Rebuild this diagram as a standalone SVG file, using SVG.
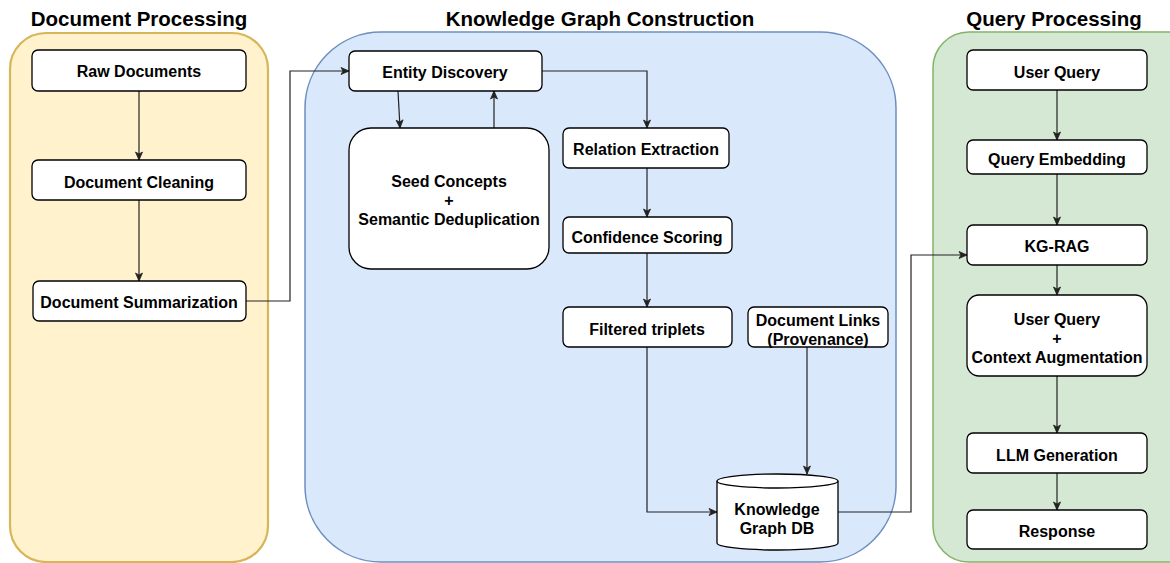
<svg xmlns="http://www.w3.org/2000/svg" width="1170" height="563" viewBox="0 0 1170 563">
<style>
.t{font-family:"Liberation Sans",Arial,sans-serif;font-weight:bold;fill:#000}
.title{font-size:20.5px}
.lbl{font-size:16px}
.box{fill:#fff;stroke:#000;stroke-width:1.3}
.edge{fill:none;stroke:#222;stroke-width:1.2}
</style>
<defs>
<marker id="ah" markerUnits="userSpaceOnUse" markerWidth="10" markerHeight="10" viewBox="0 0 10 10" refX="9" refY="5" orient="auto">
<path d="M1,1.5 L9,5 L1,8.5 L3,5 z" fill="#222" stroke="#222" stroke-width="0.8"/>
</marker>
</defs>
<rect width="1170" height="563" fill="#fff"/>

<g id="containers">
<g id="doc-processing">
<rect x="10" y="33" width="258" height="529" rx="36" fill="#fff2cc" stroke="#d6b656" stroke-width="2.2"/>
<text class="t title" x="139" y="18" text-anchor="middle" dominant-baseline="central">Document Processing</text>
</g>
<g id="kg-construction">
<rect x="305" y="32" width="591" height="530" rx="76" fill="#dae8fc" stroke="#6c8ebf" stroke-width="1.5"/>
<text class="t title" x="600" y="18" text-anchor="middle" dominant-baseline="central">Knowledge Graph Construction</text>
</g>
<g id="query-processing">
<rect x="933" y="32" width="280" height="530" rx="36" fill="#d5e8d4" stroke="#82b366" stroke-width="1.5"/>
<text class="t title" x="1054" y="18" text-anchor="middle" dominant-baseline="central">Query Processing</text>
</g>
</g>

<g id="connectors">
<path class="edge" d="M139,91 L139,160" marker-end="url(#ah)"/>
<path class="edge" d="M139,200 L139,281" marker-end="url(#ah)"/>
<path class="edge" d="M246,301 L290,301 L290,71 L349,71" marker-end="url(#ah)"/>
<path class="edge" d="M398,91 L400,128" marker-end="url(#ah)"/>
<path class="edge" d="M494,128 L494,91" marker-end="url(#ah)"/>
<path class="edge" d="M542,71 L647,71 L647,128" marker-end="url(#ah)"/>
<path class="edge" d="M647,168 L647,217" marker-end="url(#ah)"/>
<path class="edge" d="M647,253 L647,307" marker-end="url(#ah)"/>
<path class="edge" d="M647,347 L647,512 L717,512" marker-end="url(#ah)"/>
<path class="edge" d="M807,347 L807,474" marker-end="url(#ah)"/>
<path class="edge" d="M838,512 L911,512 L911,255 L967,255" marker-end="url(#ah)"/>
<path class="edge" d="M1057,90 L1057,140" marker-end="url(#ah)"/>
<path class="edge" d="M1057,174 L1057,225" marker-end="url(#ah)"/>
<path class="edge" d="M1057,265 L1057,295" marker-end="url(#ah)"/>
<path class="edge" d="M1057,376 L1057,433" marker-end="url(#ah)"/>
<path class="edge" d="M1057,473 L1057,510" marker-end="url(#ah)"/>
</g>

<g id="raw-documents">
<rect class="box" x="32" y="50" width="214" height="41" rx="6"/>
<text class="t lbl" x="139" y="71" text-anchor="middle" dominant-baseline="central">Raw Documents</text>
</g>
<g id="document-cleaning">
<rect class="box" x="32" y="160" width="214" height="40" rx="6"/>
<text class="t lbl" x="139" y="182" text-anchor="middle" dominant-baseline="central">Document Cleaning</text>
</g>
<g id="document-summarization">
<rect class="box" x="33" y="281" width="213" height="40" rx="6"/>
<text class="t lbl" x="139" y="302" text-anchor="middle" dominant-baseline="central">Document Summarization</text>
</g>

<g id="entity-discovery">
<rect class="box" x="349" y="51" width="193" height="40" rx="6"/>
<text class="t lbl" x="445" y="72" text-anchor="middle" dominant-baseline="central">Entity Discovery</text>
</g>
<g id="seed-concepts">
<rect class="box" x="349" y="128" width="200" height="141" rx="22"/>
<text class="t lbl" x="449" y="181" text-anchor="middle" dominant-baseline="central">Seed Concepts</text>
<text class="t lbl" x="449" y="200" text-anchor="middle" dominant-baseline="central">+</text>
<text class="t lbl" x="449" y="219" text-anchor="middle" dominant-baseline="central">Semantic Deduplication</text>
</g>
<g id="relation-extraction">
<rect class="box" x="563" y="128" width="166" height="40" rx="6"/>
<text class="t lbl" x="646" y="149" text-anchor="middle" dominant-baseline="central">Relation Extraction</text>
</g>
<g id="confidence-scoring">
<rect class="box" x="563" y="217" width="169" height="36" rx="6"/>
<text class="t lbl" x="647" y="237" text-anchor="middle" dominant-baseline="central">Confidence Scoring</text>
</g>
<g id="filtered-triplets">
<rect class="box" x="563" y="307" width="169" height="40" rx="6"/>
<text class="t lbl" x="647" y="329" text-anchor="middle" dominant-baseline="central">Filtered triplets</text>
</g>
<g id="document-links">
<rect class="box" x="748" y="307" width="140" height="40" rx="6"/>
<text class="t lbl" x="818" y="320" text-anchor="middle" dominant-baseline="central">Document Links</text>
<text class="t lbl" x="818" y="339" text-anchor="middle" dominant-baseline="central">(Provenance)</text>
</g>
<g id="knowledge-graph-db">
<path class="box" d="M717,481 L717,543 A60.5,7 0 0 0 838,543 L838,481 A60.5,7 0 0 0 717,481 Z"/>
<path class="box" d="M717,481 A60.5,7 0 0 0 838,481" fill="none"/>
<text class="t lbl" x="777" y="509" text-anchor="middle" dominant-baseline="central">Knowledge</text>
<text class="t lbl" x="777" y="528" text-anchor="middle" dominant-baseline="central">Graph DB</text>
</g>

<g id="user-query">
<rect class="box" x="967" y="50" width="180" height="40" rx="6"/>
<text class="t lbl" x="1057" y="72" text-anchor="middle" dominant-baseline="central">User Query</text>
</g>
<g id="query-embedding">
<rect class="box" x="967" y="140" width="180" height="34" rx="6"/>
<text class="t lbl" x="1057" y="159" text-anchor="middle" dominant-baseline="central">Query Embedding</text>
</g>
<g id="kg-rag">
<rect class="box" x="967" y="225" width="180" height="40" rx="6"/>
<text class="t lbl" x="1057" y="246" text-anchor="middle" dominant-baseline="central">KG-RAG</text>
</g>
<g id="context-augmentation">
<rect class="box" x="967" y="295" width="180" height="81" rx="12"/>
<text class="t lbl" x="1057" y="319" text-anchor="middle" dominant-baseline="central">User Query</text>
<text class="t lbl" x="1057" y="338" text-anchor="middle" dominant-baseline="central">+</text>
<text class="t lbl" x="1057" y="357" text-anchor="middle" dominant-baseline="central">Context Augmentation</text>
</g>
<g id="llm-generation">
<rect class="box" x="967" y="433" width="180" height="40" rx="6"/>
<text class="t lbl" x="1057" y="455" text-anchor="middle" dominant-baseline="central">LLM Generation</text>
</g>
<g id="response">
<rect class="box" x="967" y="510" width="180" height="39" rx="6"/>
<text class="t lbl" x="1057" y="531" text-anchor="middle" dominant-baseline="central">Response</text>
</g>
</svg>
